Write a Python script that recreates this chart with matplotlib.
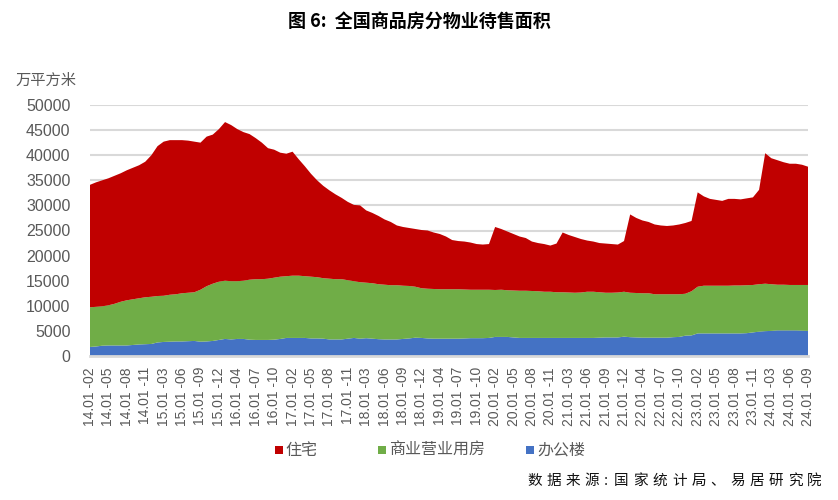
import numpy as np
import matplotlib
matplotlib.use("Agg")
import matplotlib.pyplot as plt
from matplotlib.patches import Rectangle

plt.rcParams['font.family'] = ['Liberation Sans', 'Noto Sans CJK SC', 'DejaVu Sans']

# ==========================
# DATA (万平方米)
# ==========================
years = list(range(14, 25))
months_full = list(range(2, 13))
months_last = list(range(2, 10))

periods = []
for y in years:
    ms = months_last if y == 24 else months_full
    for m in ms:
        periods.append(f"{y}.01 -{m:02d}")

# 办公楼
office = [
    1800, 1900, 2050, 2100, 2100, 2100, 2100, 2200, 2300, 2350, 2400,
    2700, 2800, 2850, 2900, 2900, 2950, 3000, 2850, 2900, 3000, 3200,
    3400, 3300, 3400, 3400, 3250, 3200, 3200, 3200, 3250, 3400, 3600,
    3600, 3600, 3600, 3500, 3500, 3450, 3300, 3300, 3300, 3450, 3600,
    3450, 3550, 3450, 3350, 3300, 3300, 3300, 3400, 3500, 3650, 3600,
    3500, 3450, 3450, 3450, 3450, 3450, 3500, 3550, 3550, 3550, 3600,
    3800, 3800, 3800, 3700, 3600, 3600, 3600, 3600, 3600, 3600, 3600,
    3600, 3600, 3600, 3600, 3600, 3600, 3650, 3700, 3700, 3700, 3850,
    3750, 3700, 3650, 3650, 3650, 3650, 3650, 3750, 3800, 4050, 4100,
    4500, 4500, 4500, 4500, 4500, 4500, 4500, 4500, 4550, 4700, 4850,
    4950, 5000, 5100, 5100, 5100, 5100, 5050, 5000,
]

# 商业营业用房
commercial = [
    7900, 7900, 7850, 8000, 8300, 8700, 9000, 9100, 9200, 9350, 9400,
    9250, 9200, 9350, 9400, 9600, 9650, 9700, 10350, 11000, 11400, 11600,
    11600, 11600, 11500, 11600, 11950, 12100, 12100, 12200, 12350, 12400, 12300,
    12400, 12400, 12300, 12300, 12200, 12050, 12100, 12000, 12000, 11650, 11300,
    11250, 11050, 11050, 10950, 10900, 10800, 10800, 10600, 10450, 10150, 9900,
    9900, 9900, 9850, 9850, 9850, 9850, 9750, 9650, 9650, 9650, 9600,
    9350, 9400, 9300, 9350, 9400, 9400, 9350, 9300, 9200, 9200, 9100,
    9100, 9050, 9000, 9050, 9200, 9200, 9050, 8900, 8900, 8950, 8950,
    8850, 8850, 8850, 8850, 8650, 8650, 8650, 8550, 8500, 8350, 8800,
    9300, 9500, 9500, 9500, 9500, 9500, 9550, 9550, 9550, 9450, 9450,
    9450, 9300, 9100, 9100, 9050, 9050, 9100, 9150,
]

# 住宅
residential = [
    24400, 24800, 25100, 25300, 25500, 25600, 25900, 26200, 26500, 27000, 28200,
    29850, 30700, 30800, 30700, 30500, 30300, 30000, 29300, 29800, 29700, 30400,
    31600, 31100, 30300, 29600, 29000, 28100, 27200, 26000, 25500, 24700, 24400,
    24700, 23200, 21900, 20500, 19300, 18400, 17600, 16900, 16200, 15600, 15200,
    15300, 14400, 14000, 13600, 13000, 12600, 11900, 11700, 11550, 11500, 11600,
    11600, 11250, 11000, 10500, 9800, 9600, 9550, 9400, 9100, 9000, 9100,
    12550, 12100, 11700, 11250, 10800, 10500, 9850, 9600, 9500, 9200, 9700,
    11900, 11450, 11100, 10650, 10200, 10000, 9800, 9800, 9700, 9550, 10100,
    15600, 14950, 14500, 14200, 13900, 13700, 13600, 13700, 13900, 14100, 14000,
    18800, 17800, 17300, 17100, 16900, 17300, 17250, 17150, 17300, 17450, 18800,
    26000, 25100, 24800, 24400, 24150, 24150, 23950, 23550,
]

series_names = ["办公楼", "商业营业用房", "住宅"]
colors = ["#4472C4", "#70AD47", "#C00000"]
y_ticks = list(range(0, 50001, 5000))

# ==========================
# FIGURE
# ==========================
fig = plt.figure(figsize=(8.38, 5), dpi=100)
ax = fig.add_axes([0.1074, 0.288, 0.857, 0.502])

x = np.arange(len(periods))
ax.stackplot(x, office, commercial, residential, colors=colors, linewidth=0, zorder=2)

ax.set_xlim(0, len(periods) - 1)
ax.set_ylim(0, 50000)
ax.set_yticks(y_ticks)
ax.set_yticklabels([str(v) for v in y_ticks], fontsize=11.5, color="#595959")
ax.yaxis.grid(True, color="#d9d9d9", linewidth=1.5, zorder=0)
ax.set_axisbelow(True)

ax.set_xticks(x[::3])
ax.set_xticklabels(periods[::3], rotation=90, fontsize=10, color="#595959")
ax.tick_params(axis='both', length=0)
ax.tick_params(axis='y', pad=14)
ax.tick_params(axis='x', pad=8)

for s in ['top', 'right', 'left']:
    ax.spines[s].set_visible(False)
ax.spines['bottom'].set_color("#d9d9d9")
ax.spines['bottom'].set_linewidth(2)

# ==========================
# TEXTS
# ==========================
fig.text(0.5, 0.958, "图 6:  全国商品房分物业待售面积", ha='center', va='center',
         fontsize=13, fontweight='bold', family=['Noto Sans CJK SC', 'DejaVu Sans'])

fig.text(0.018, 0.84, "万平方米", ha='left', va='center', fontsize=11,
         color="#595959", family=['Noto Sans CJK SC', 'DejaVu Sans'])

# legend
legend_items = [("住宅", "#C00000", 0.328), ("商业营业用房", "#70AD47", 0.451), ("办公楼", "#4472C4", 0.628)]
for name, col, lx in legend_items:
    fig.patches.append(Rectangle((lx, 0.092), 0.0095, 0.016, transform=fig.transFigure,
                                 facecolor=col, edgecolor='none'))
    fig.text(lx + 0.013, 0.1, name, ha='left', va='center', fontsize=11.5,
             color="#595959", family=['Noto Sans CJK SC', 'DejaVu Sans'])

# source line, spaced characters
source = "数据来源:国家统计局、易居研究院"
sx = 527
for ch in source:
    fig.text(sx / 838, 1 - 481 / 500, ch, ha='left', va='center', fontsize=10.5,
             color="#111111", family=['Noto Sans CJK SC', 'DejaVu Sans'])
    sx += 10 if ch == ":" else 19.3

fig.savefig("out.png", dpi=100)
